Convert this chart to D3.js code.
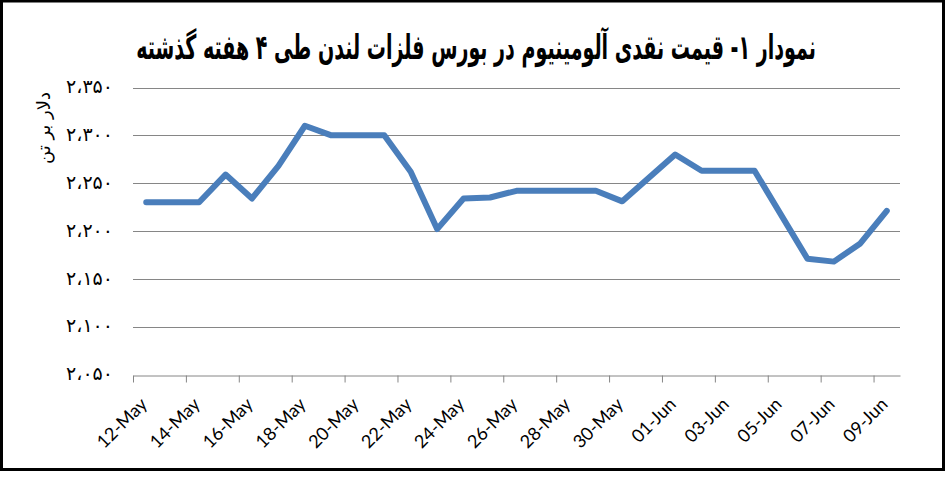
<!DOCTYPE html>
<html>
<head>
<meta charset="utf-8">
<script src="https://cdn.jsdelivr.net/npm/d3@7"></script>
<style>
  body { margin: 0; background: #fff; }
  svg { display: block; }
</style>
</head>
<body>
<svg id="chart" width="945" height="478"></svg>
<script>
// aluminium cash price, LME, last 4 weeks ($/t)
const dates = ["2011-05-12", "2011-05-14", "2011-05-15", "2011-05-16", "2011-05-17", "2011-05-18",
    "2011-05-19", "2011-05-21", "2011-05-22", "2011-05-23", "2011-05-24", "2011-05-25",
    "2011-05-26", "2011-05-29", "2011-05-30", "2011-06-01", "2011-06-02", "2011-06-04",
    "2011-06-06", "2011-06-07", "2011-06-08", "2011-06-09"];
const prices = [2230, 2230, 2259, 2234, 2268, 2310,
    2300, 2300, 2262, 2202, 2234, 2235,
    2242, 2242, 2231, 2280, 2263, 2263,
    2171, 2168, 2187, 2221];
const yTicks = [2050, 2100, 2150, 2200, 2250, 2300, 2350];
const titleText = "نمودار ۱- قیمت نقدی آلومینیوم در بورس فلزات لندن طی ۴ هفته گذشته";
const yTitle = "دلار بر تن";

const svg = d3.select("#chart");
const parse = d3.utcParse("%Y-%m-%d");
const data = dates.map((d, i) => ({ date: parse(d), value: prices[i] }));

const start = parse("2011-05-12");
const end = parse("2011-06-10");

const x = d3.scaleUtc().domain([start, end]).range([133, 900]);
const y = d3.scaleLinear().domain([2050, 2350]).range([374.5, 87.5]);
const mid = d => d3.utcHour.offset(d, 12);

// persian digits
const faDigits = "۰۱۲۳۴۵۶۷۸۹";
const toFa = s => String(s).replace(/\d/g, c => faDigits[+c]);
const fmtY = v => toFa(d3.format(",")(v)).replace(",", "،");

svg.append("rect")
    .attr("x", 1.5).attr("y", 1)
    .attr("width", 942).attr("height", 468.5)
    .attr("fill", "#fff")
    .attr("stroke", "#000")
    .attr("stroke-width", 3);

// gridlines
svg.append("g")
    .selectAll("line")
    .data(yTicks.slice(1))
    .join("line")
    .attr("x1", 133).attr("x2", 900)
    .attr("y1", d => Math.round(y(d)) + 0.5)
    .attr("y2", d => Math.round(y(d)) + 0.5)
    .attr("stroke", "#868686")
    .attr("stroke-width", 1);

// y labels
svg.append("g")
    .selectAll("text")
    .data(yTicks)
    .join("text")
    .attr("x", 113)
    .attr("y", d => y(d))
    .attr("dy", "0.3em")
    .attr("text-anchor", "end")
    .attr("font-family", "DejaVu Sans")
    .attr("font-size", 19)
    .attr("fill", "#000")
    .text(fmtY);

// x axis
const xTicks = d3.utcDay.range(start, end, 2);
const xAxis = d3.axisBottom(x)
    .tickValues(xTicks)
    .tickSize(7)
    .tickSizeOuter(0)
    .tickFormat("");
const gx = svg.append("g")
    .attr("transform", `translate(0,${Math.round(y(2050)) + 0.5})`)
    .call(xAxis);
gx.select(".domain").attr("stroke", "#868686");
gx.selectAll(".tick line").attr("stroke", "#868686");

svg.append("g")
    .selectAll("text")
    .data(xTicks)
    .join("text")
    .attr("transform", d => `translate(${x(mid(d)) + 2},${y(2050) + 31}) rotate(-45)`)
    .attr("text-anchor", "end")
    .attr("font-family", "Lato")
    .attr("font-size", 18)
    .attr("fill", "#000")
    .text(d3.utcFormat("%d-%b"));

// line
const line = d3.line()
    .x(d => x(mid(d.date)))
    .y(d => y(d.value));

svg.append("path")
    .datum(data)
    .attr("d", line)
    .attr("fill", "none")
    .attr("stroke", "#4a7ebb")
    .attr("stroke-width", 6)
    .attr("stroke-linejoin", "round")
    .attr("stroke-linecap", "round");

// title, squeezed horizontally to the reference width
const titleG = svg.append("g");
const title = titleG.append("text")
    .attr("x", 0)
    .attr("y", 0)
    .attr("text-anchor", "middle")
    .attr("direction", "rtl")
    .attr("font-family", "DejaVu Sans")
    .attr("font-weight", "bold")
    .attr("font-size", 34)
    .attr("fill", "#000")
    .text(titleText);
const tw = title.node().getComputedTextLength();
const sx = Math.min(1, 680 / tw);
titleG.attr("transform", `translate(476,59) scale(${sx},1)`);

svg.append("text")
    .attr("transform", "translate(50,128) rotate(-90)")
    .attr("text-anchor", "middle")
    .attr("direction", "rtl")
    .attr("font-family", "DejaVu Sans")
    .attr("font-size", 18)
    .attr("fill", "#000")
    .text(yTitle);
</script>
</body>
</html>
